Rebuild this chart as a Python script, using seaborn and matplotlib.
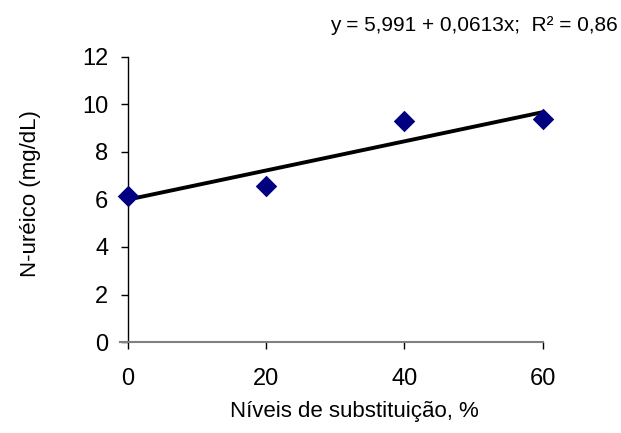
import matplotlib
matplotlib.use("Agg")
import matplotlib.pyplot as plt
import pandas as pd
import seaborn as sns

# data
niveis = [0, 20, 40, 60]
n_ureico = [6.16, 6.58, 9.28, 9.38]

# fitted equation shown on the chart
intercepto = 5.991
inclinacao = 0.0613
x_linha = [0, 60]

sns.set_style("white")
plt.rcParams['font.family'] = ['Liberation Sans', 'DejaVu Sans']
plt.rcParams['text.color'] = 'black'
plt.rcParams['axes.labelcolor'] = 'black'
plt.rcParams['xtick.color'] = 'black'
plt.rcParams['ytick.color'] = 'black'

df = pd.DataFrame({'x': niveis, 'y': n_ureico})
df_linha = pd.DataFrame({'x': x_linha, 'y': [intercepto + inclinacao * v for v in x_linha]})

fig = plt.figure(figsize=(6.21, 4.33), dpi=100)
ax = fig.add_axes([0.206, 0.210, 0.668, 0.659])

sns.lineplot(data=df_linha, x='x', y='y', ax=ax, color='black', linewidth=2.8, zorder=2)
sns.scatterplot(data=df, x='x', y='y', ax=ax, marker='D', s=120, color='#000080',
                linewidth=0, zorder=3, clip_on=False)

ax.set_xlim(0, 60)
ax.set_ylim(0, 12)
ax.set_xticks([0, 20, 40, 60])
ax.set_yticks(range(0, 13, 2))

for s in ['top', 'right']:
    ax.spines[s].set_visible(False)
ax.spines['left'].set_color('black')
ax.spines['left'].set_linewidth(1.0)
ax.spines['bottom'].set_color('#808080')
ax.spines['bottom'].set_linewidth(1.5)
ax.spines['bottom'].set_bounds(-1.2, 60)

ax.tick_params(axis='y', direction='out', length=5, width=1, color='black',
               labelsize=17, pad=9, left=True)
ax.tick_params(axis='x', direction='out', length=5, width=1, color='black',
               labelsize=17, pad=14, bottom=True)

ax.set_xlabel('Níveis de substituição, %', fontsize=16)
ax.set_ylabel('N-uréico (mg/dL)', fontsize=16)
ax.xaxis.label.set_va('center')
ax.yaxis.label.set_va('center')
ax.xaxis.set_label_coords(0.547, -0.242)
ax.yaxis.set_label_coords(-0.236, 0.52)

fig.text(0.994, 0.942, 'y = 5,991 + 0,0613x;  R² = 0,86', ha='right', va='center',
         fontsize=15)

fig.savefig('out.png', dpi=100)
